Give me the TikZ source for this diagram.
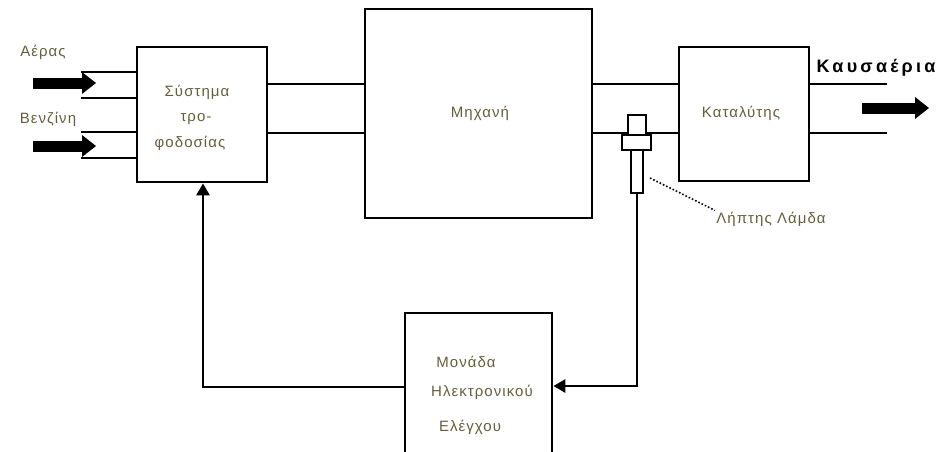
\documentclass[tikz,border=0pt]{standalone}
\usepackage{fontspec}
\setmainfont{Liberation Sans}
\newfontfamily\widefont{Liberation Sans}[LetterSpace=7]
\newfontfamily\exhfont{Liberation Sans}[LetterSpace=18]
\usetikzlibrary{arrows.meta,positioning}
\definecolor{textol}{RGB}{100,95,58}
\begin{document}
\begin{tikzpicture}[x=1pt, y=-1pt, line width=2.8pt,
  block/.style={draw, rectangle, inner sep=0pt},
  lbl/.style={text=textol, inner sep=0pt, font=\widefont\fontsize{15}{18}\selectfont},
  feedtip/.style={-{Triangle[length=12pt,width=13pt]}},
  bigarrow/.style={line width=11pt, -{Triangle[length=14pt,width=22pt,line width=0pt]}}]
  \useasboundingbox (0,0) rectangle (940,451);
  \clip (0,0) rectangle (940,451);
  % blocks
  \node[block, minimum width=130pt, minimum height=135pt] (feed) at (202,114.5) {};
  \node[block, minimum width=227pt, minimum height=209pt] (engine) at (478.5,113.5) {};
  \node[block, minimum width=130pt, minimum height=134pt] (cat) at (744,114) {};
  \node[block, minimum width=147pt, minimum height=170pt] (ecu) at (478.5,398) {};
  % texts
  \node[lbl] (feedtxt1) at (197,92) {Σύστημα};
  \node[lbl] (feedtxt2) at (196,119) {τρο-};
  \node[lbl] (feedtxt3) at (190,143) {φοδοσίας};
  \node[lbl] (enginetxt) at (480,113) {Μηχανή};
  \node[lbl] (cattxt) at (741,113) {Καταλύτης};
  \node[lbl] (ecutxt1) at (466,362) {Μονάδα};
  \node[lbl] (ecutxt2) at (482,392) {Ηλεκτρονικού};
  \node[lbl] (ecutxt3) at (470,427) {Ελέγχου};
  \node[lbl] (air) at (43,52) {Αέρας};
  \node[lbl] (fuel) at (48,119) {Βενζίνη};
  \node[lbl] (sensor) at (771,219) {Λήπτης Λάμδα};
  \node[inner sep=0pt, font=\exhfont\fontsize{18}{21}\selectfont\bfseries] (exhaust) at (876,68) {Καυσαέρια};
  % inlet pipes
  \coordinate (a1) at (81,72);
  \coordinate (a2) at (81,98);
  \coordinate (f1) at (81,132);
  \coordinate (f2) at (81,158);
  \foreach \c in {a1,a2,f1,f2}
    \draw (\c) -- (\c -| feed.west);
  % pipes between blocks
  \foreach \y in {84,133} {
    \draw (feed.east |- 0,\y) -- (engine.west |- 0,\y);
    \draw (engine.east |- 0,\y) -- (cat.west |- 0,\y);
    \draw (cat.east |- 0,\y) -- (887,\y);
  }
  % flow arrows
  \coordinate (airtail) at (33,83);
  \coordinate (airtip) at (96,83);
  \coordinate (fueltail) at (33,146);
  \coordinate (fueltip) at (96,146);
  \coordinate (exhtail) at (862,108);
  \coordinate (exhtip) at (929,108);
  \draw[bigarrow] (airtail) -- (airtip);
  \draw[bigarrow] (fueltail) -- (fueltip);
  \draw[bigarrow] (exhtail) -- (exhtip);
  % lambda sensor
  \draw[fill=white, line width=2.4pt] (628,115) rectangle (646,135);
  \draw[fill=white, line width=2.4pt] (622,135) rectangle (651,150);
  \draw[fill=white, line width=2.4pt] (631,150) rectangle (643,193);
  \coordinate (probeend) at (637,193);
  \draw[dotted, line width=1.6pt] (650,178) -- (sensor.north west);
  % feedback loop
  \draw[feedtip] (probeend) |- (ecu.east |- 0,386);
  \draw[feedtip] (ecu.west |- 0,387) -| (feed.south -| 203,0);
\end{tikzpicture}
\end{document}
